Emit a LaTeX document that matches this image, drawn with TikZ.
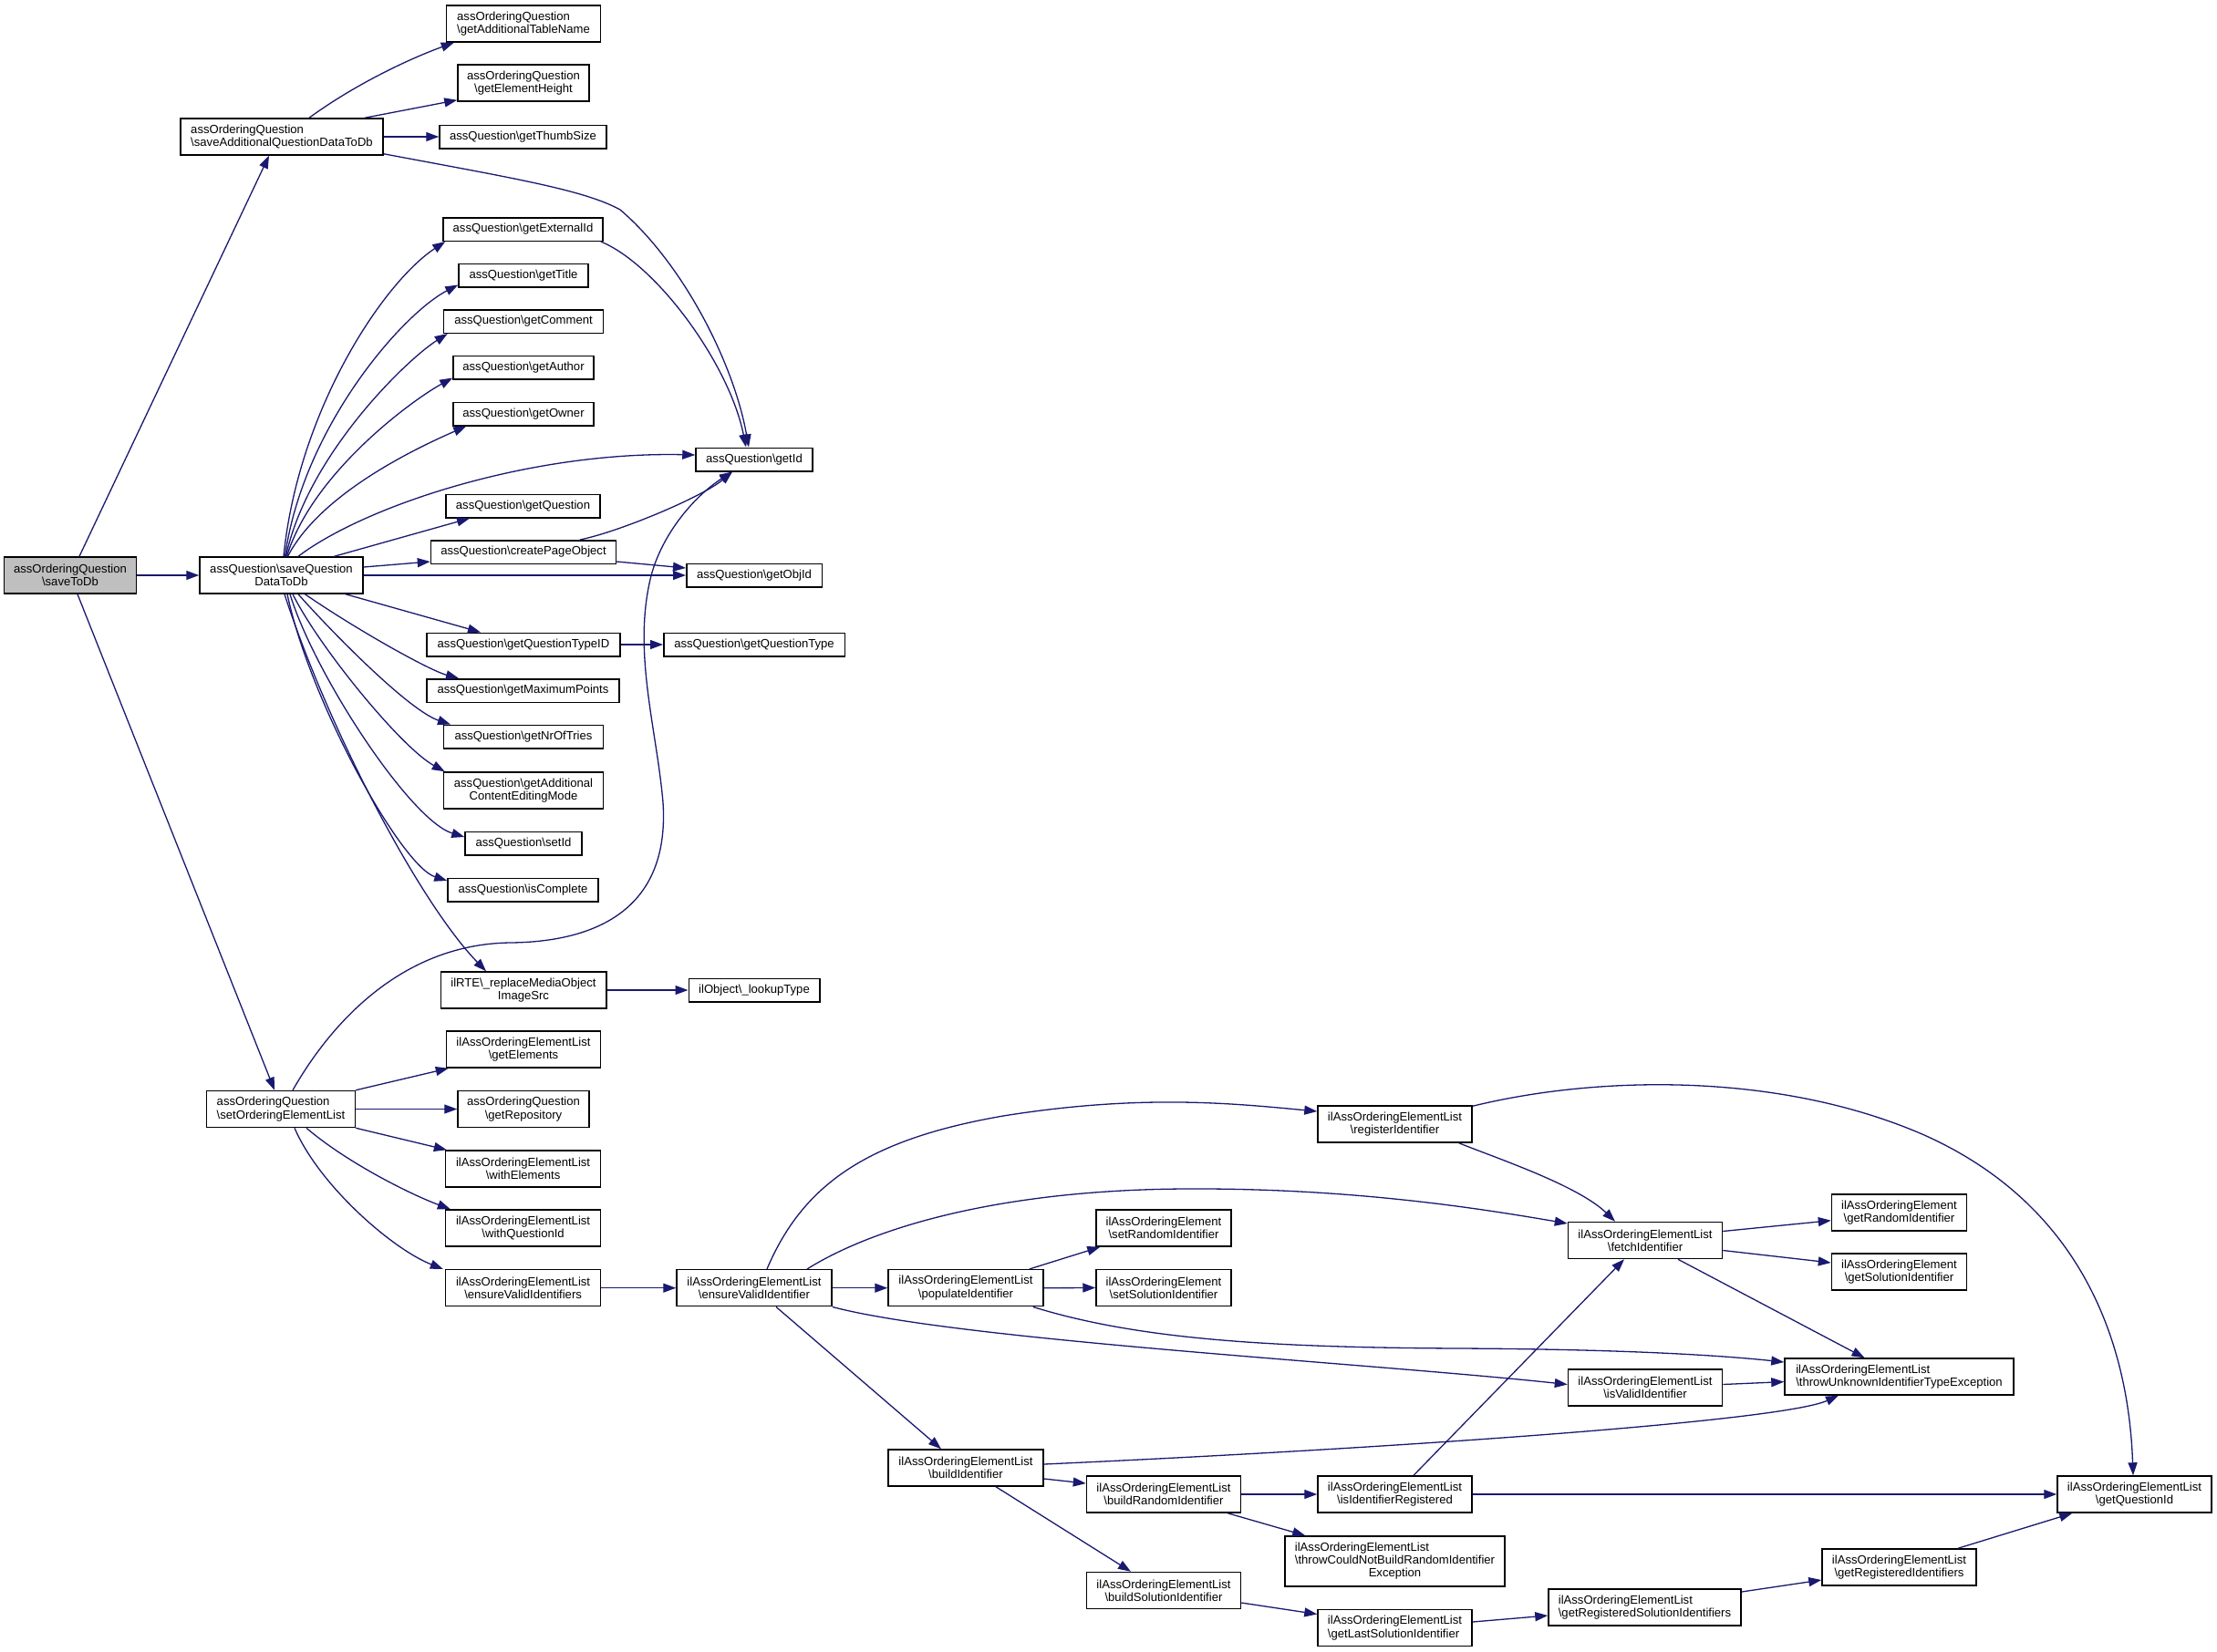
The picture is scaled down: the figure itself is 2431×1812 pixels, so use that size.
\documentclass[tikz,border=0pt]{standalone}
\usepackage{fontspec}
\setmainfont{Liberation Sans}
\usetikzlibrary{arrows.meta}
\definecolor{edgeblue}{HTML}{191970}
\definecolor{hlgray}{HTML}{BFBFBF}
\newcommand\myBS{\textbackslash}
\begin{document}
\begin{tikzpicture}[x=1pt,y=-1pt,
  box/.style 2 args={draw=black, line width=1.5pt, fill=white, inner sep=0pt,
    minimum width=#1pt, minimum height=#2pt,
    font=\fontsize{13.1}{14.3}\selectfont, align=center},
  lbox/.style 2 args={box={#1}{#2}, align=left},
  edge/.style={draw=edgeblue, line width=1.3pt, -{Triangle[length=14pt,width=10pt]}}]
\fill[white] (0,0) rectangle (2431,1812);
\useasboundingbox (0,0) rectangle (2431,1812);

% nodes
\node[box={145}{40}, fill=hlgray] (saveToDb) at (77,631) {assOrderingQuestion\\\myBS saveToDb};
\node[lbox={222}{40}] (saveAdd) at (309,150) {assOrderingQuestion\\\myBS saveAdditionalQuestionDataToDb};
\node[lbox={169}{40}] (getAddTable) at (574,26) {assOrderingQuestion\\\myBS getAdditionalTableName};
\node[box={144}{40}] (getElemHeight) at (574,91) {assOrderingQuestion\\\myBS getElementHeight};
\node[box={183}{25.5}] (getThumb) at (573.5,150) {assQuestion\myBS getThumbSize};
\node[box={175}{25.5}] (getExtId) at (573.5,251.5) {assQuestion\myBS getExternalId};
\node[box={142}{25.5}] (getTitle) at (574,302) {assQuestion\myBS getTitle};
\node[box={175}{25.5}] (getComment) at (574,352.5) {assQuestion\myBS getComment};
\node[box={154}{25.5}] (getAuthor) at (574,403) {assQuestion\myBS getAuthor};
\node[box={154}{25.5}] (getOwner) at (574,454) {assQuestion\myBS getOwner};
\node[box={128}{25.5}] (getId) at (827,504) {assQuestion\myBS getId};
\node[box={169}{25.5}] (getQuestion) at (573.5,555) {assQuestion\myBS getQuestion};
\node[box={203}{25.5}] (createPage) at (574,605.5) {assQuestion\myBS createPageObject};
\node[box={148.5}{25.5}] (getObjId) at (827,631) {assQuestion\myBS getObjId};
\node[box={179}{40}] (saveQData) at (308.5,631) {assQuestion\myBS saveQuestion\\DataToDb};
\node[box={212}{25.5}] (getQTypeID) at (574,707) {assQuestion\myBS getQuestionTypeID};
\node[box={198.5}{25.5}] (getQType) at (827,707) {assQuestion\myBS getQuestionType};
\node[box={211}{25.5}] (getMaxPts) at (573.5,757.5) {assQuestion\myBS getMaximumPoints};
\node[box={175}{25.5}] (getNrOfTries) at (574,808) {assQuestion\myBS getNrOfTries};
\node[box={175}{40}] (getAddCEM) at (574,867) {assQuestion\myBS getAdditional\\ContentEditingMode};
\node[box={128}{25.5}] (setId) at (574,925) {assQuestion\myBS setId};
\node[box={165}{25.5}] (isComplete) at (573.5,976) {assQuestion\myBS isComplete};
\node[box={181.5}{40}] (ilRTE) at (574,1086) {ilRTE\myBS\_replaceMediaObject\\ImageSrc};
\node[box={143.5}{25.5}] (lookupType) at (827,1086) {ilObject\myBS\_lookupType};
\node[box={169}{40}] (getElements) at (574,1151) {ilAssOrderingElementList\\\myBS getElements};
\node[box={144}{40}] (getRepository) at (574,1216.5) {assOrderingQuestion\\\myBS getRepository};
\node[lbox={162.6}{40}] (setOEL) at (308,1216.5) {assOrderingQuestion\\\myBS setOrderingElementList};
\node[box={170}{40}] (withElements) at (573.6,1282) {ilAssOrderingElementList\\\myBS withElements};
\node[box={170}{40}] (withQId) at (573.6,1347) {ilAssOrderingElementList\\\myBS withQuestionId};
\node[box={170}{40}] (ensureVIs) at (573.6,1412.7) {ilAssOrderingElementList\\\myBS ensureValidIdentifiers};
\node[box={170}{40}] (ensureVI) at (827,1412.7) {ilAssOrderingElementList\\\myBS ensureValidIdentifier};
\node[box={170}{40}] (populate) at (1059,1412.7) {ilAssOrderingElementList\\\myBS populateIdentifier};
\node[box={170}{40}] (buildId) at (1059,1610) {ilAssOrderingElementList\\\myBS buildIdentifier};
\node[box={169}{40}] (registerId) at (1529.5,1233) {ilAssOrderingElementList\\\myBS registerIdentifier};
\node[box={148}{40}] (setRandomId) at (1276,1347) {ilAssOrderingElement\\\myBS setRandomIdentifier};
\node[box={148}{40}] (setSolutionId) at (1276,1412.5) {ilAssOrderingElement\\\myBS setSolutionIdentifier};
\node[box={169}{40}] (fetchId) at (1804,1360.5) {ilAssOrderingElementList\\\myBS fetchIdentifier};
\node[box={148}{40}] (getRandomId) at (2082.5,1330) {ilAssOrderingElement\\\myBS getRandomIdentifier};
\node[box={148}{40}] (getSolutionId) at (2082.5,1395) {ilAssOrderingElement\\\myBS getSolutionIdentifier};
\node[lbox={251}{40}] (throwUnknown) at (2082.5,1510) {ilAssOrderingElementList\\\myBS throwUnknownIdentifierTypeException};
\node[box={169}{40}] (isValidId) at (1804,1522) {ilAssOrderingElementList\\\myBS isValidIdentifier};
\node[box={169}{40}] (buildRandomId) at (1276,1639) {ilAssOrderingElementList\\\myBS buildRandomIdentifier};
\node[box={169}{40}] (isIdReg) at (1529.5,1639) {ilAssOrderingElementList\\\myBS isIdentifierRegistered};
\node[box={169}{40}] (getQuestionId) at (2340.5,1639) {ilAssOrderingElementList\\\myBS getQuestionId};
\node[box={241}{55}] (throwCouldNot) at (1529.5,1712.5) {\begin{tabular}{@{}l@{}}ilAssOrderingElementList\\\myBS throwCouldNotBuildRandomIdentifier\\\multicolumn{1}{@{}c@{}}{Exception}\end{tabular}};
\node[box={169}{40}] (buildSolutionId) at (1276,1744.5) {ilAssOrderingElementList\\\myBS buildSolutionIdentifier};
\node[lbox={169}{40}] (getLastSolId) at (1529.5,1785.5) {ilAssOrderingElementList\\\myBS getLastSolutionIdentifier};
\node[lbox={211}{40}] (getRegSolIds) at (1803.5,1763) {ilAssOrderingElementList\\\myBS getRegisteredSolutionIdentifiers};
\node[box={169}{40}] (getRegIds) at (2082.5,1719) {ilAssOrderingElementList\\\myBS getRegisteredIdentifiers};

% edges from saveToDb
\draw[edge] ([shift={(10,0)}]saveToDb.north) -- ([shift={(-14,0)}]saveAdd.south);
\draw[edge] (saveToDb.east) -- (saveQData.west);
\draw[edge] ([shift={(8,0)}]saveToDb.south) -- ([shift={(-7,0)}]setOEL.north);

% saveAdditionalQuestionDataToDb
\draw[edge] ([shift={(30,0)}]saveAdd.north) .. controls (390,92) and (450,64) .. ([shift={(9,0)}]getAddTable.south west);
\draw[edge] ([shift={(91,0)}]saveAdd.north) -- ([shift={(0,-2)}]getElemHeight.south west);
\draw[edge] (saveAdd.east) -- (getThumb.west);
\draw[edge] ([shift={(0,-2)}]saveAdd.south east) .. controls (560,195) and (640,208) .. (680,230) .. controls (750,290) and (805,400) .. ([shift={(-6,0)}]getId.north);

% saveQuestionDataToDb, upper fan
\draw[edge] ([shift={(2.5,0)}]saveQData.north) .. controls (327,450) and (420,310) .. ([shift={(3,0)}]getExtId.south west);
\draw[edge] ([shift={(4,0)}]saveQData.north) .. controls (332,470) and (440,345) .. ([shift={(0,-3)}]getTitle.south west);
\draw[edge] ([shift={(5,0)}]saveQData.north) .. controls (337,500) and (445,395) .. ([shift={(5,0)}]getComment.south west);
\draw[edge] ([shift={(6,0)}]saveQData.north) .. controls (342,520) and (450,440) .. ([shift={(0,-2)}]getAuthor.south west);
\draw[edge] ([shift={(7,0)}]saveQData.north) .. controls (352,540) and (460,490) .. ([shift={(15,0)}]getOwner.south west);
\draw[edge] ([shift={(18.5,0)}]saveQData.north) .. controls (400,555) and (580,495) .. ([shift={(0,-5)}]getId.west);
\draw[edge] ([shift={(58,0)}]saveQData.north) -- ([shift={(-58.5,0)}]getQuestion.south);
\draw[edge] ([shift={(0,-9)}]saveQData.east) -- ([shift={(0,10.5)}]createPage.west);
\draw[edge] (saveQData.east) -- (getObjId.west);
\draw[edge] ([shift={(0,10.5)}]createPage.east) -- ([shift={(0,-8)}]getObjId.west);
\draw[edge] ([shift={(62,0)}]createPage.north) .. controls (680,583) and (770,545) .. ([shift={(-24,0)}]getId.south);
\draw[edge] ([shift={(-3,0)}]getExtId.south east) .. controls (720,290) and (800,400) .. ([shift={(-9,0)}]getId.north);

% saveQuestionDataToDb, lower fan
\draw[edge] ([shift={(70.5,0)}]saveQData.south) -- ([shift={(-47,0)}]getQTypeID.north);
\draw[edge] ([shift={(26,0)}]saveQData.south) .. controls (390,690) and (470,735) .. ([shift={(-70.5,0)}]getMaxPts.north);
\draw[edge] ([shift={(18.5,0)}]saveQData.south) .. controls (370,700) and (450,780) .. ([shift={(-80,0)}]getNrOfTries.north);
\draw[edge] ([shift={(12.5,0)}]saveQData.south) .. controls (350,710) and (440,820) .. ([shift={(2,0)}]getAddCEM.north west);
\draw[edge] ([shift={(9.5,0)}]saveQData.south) .. controls (345,740) and (450,900) .. ([shift={(0,-7)}]setId.west);
\draw[edge] ([shift={(6.5,0)}]saveQData.south) .. controls (340,770) and (440,950) .. ([shift={(0,-10)}]isComplete.west);
\draw[edge] ([shift={(3.5,0)}]saveQData.south) .. controls (360,800) and (460,990) .. ([shift={(-41,0)}]ilRTE.north);
\draw[edge] (getQTypeID.east) -- (getQType.west);
\draw[edge] (ilRTE.east) -- (lookupType.west);

% setOrderingElementList
\draw[edge] ([shift={(13,0)}]setOEL.north) .. controls (370,1110) and (450,1035) .. (560,1034) .. controls (650,1033) and (735,1000) .. (727,880) .. controls (720,800) and (695,720) .. (712,640) .. controls (722,590) and (760,545) .. ([shift={(-24,0)}]getId.south);
\draw[edge] (setOEL.north east) -- ([shift={(3,0)}]getElements.south west);
\draw[edge] (setOEL.east) -- (getRepository.west);
\draw[edge] (setOEL.south east) -- ([shift={(2,0)}]withElements.north west);
\draw[edge] ([shift={(28,0)}]setOEL.south) .. controls (380,1275) and (450,1310) .. ([shift={(6,0)}]withQId.north west);
\draw[edge] ([shift={(15,0)}]setOEL.south) .. controls (350,1300) and (430,1370) .. ([shift={(-2,0)}]ensureVIs.north west);
\draw[edge] (ensureVIs.east) -- (ensureVI.west);

% ensureValidIdentifier
\draw[edge] (ensureVI.east) -- (populate.west);
\draw[edge] ([shift={(24,0)}]ensureVI.south) -- ([shift={(-27,0)}]buildId.north);
\draw[edge] ([shift={(14,0)}]ensureVI.north) .. controls (880,1300) and (950,1250) .. (1100,1224) .. controls (1250,1200) and (1350,1210) .. ([shift={(0,-14)}]registerId.west);
\draw[edge] ([shift={(58,0)}]ensureVI.north) .. controls (960,1345) and (1100,1305) .. (1300,1304) .. controls (1480,1303) and (1620,1325) .. ([shift={(0,-18.5)}]fetchId.west);
\draw[edge] (ensureVI.south east) .. controls (1050,1470) and (1500,1495) .. ([shift={(0,-3.5)}]isValidId.west);

% populateIdentifier
\draw[edge] ([shift={(-16,0)}]populate.north east) -- ([shift={(5,0)}]setRandomId.south west);
\draw[edge] (populate.east) -- (setSolutionId.west);
\draw[edge] ([shift={(-12,0)}]populate.south east) .. controls (1250,1470) and (1400,1478) .. (1600,1479) .. controls (1800,1480) and (1900,1488) .. ([shift={(0,-16)}]throwUnknown.west);

% buildIdentifier
\draw[edge] ([shift={(0,-4)}]buildId.east) .. controls (1500,1590) and (1950,1560) .. ([shift={(-66.5,0)}]throwUnknown.south);
\draw[edge] ([shift={(0,12)}]buildId.east) -- ([shift={(0,-12)}]buildRandomId.west);
\draw[edge] ([shift={(33,0)}]buildId.south) -- ([shift={(-36,0)}]buildSolutionId.north);

% registerIdentifier
\draw[edge] ([shift={(0,1)}]registerId.north east) .. controls (1750,1180) and (1950,1175) .. (2110,1245) .. controls (2300,1330) and (2335,1500) .. ([shift={(-1.5,0)}]getQuestionId.north);
\draw[edge] ([shift={(-15,0)}]registerId.south east) .. controls (1640,1270) and (1730,1300) .. ([shift={(-33,0)}]fetchId.north);

% fetchIdentifier
\draw[edge] ([shift={(0,-10)}]fetchId.east) -- ([shift={(0,8.7)}]getRandomId.west);
\draw[edge] ([shift={(0,11)}]fetchId.east) -- ([shift={(0,-10)}]getSolutionId.west);
\draw[edge] ([shift={(36,0)}]fetchId.south) -- ([shift={(-38,0)}]throwUnknown.north);
\draw[edge] ([shift={(0,-3.5)}]isValidId.east) -- ([shift={(0,5.6)}]throwUnknown.west);

% random / solution identifiers
\draw[edge] (buildRandomId.east) -- (isIdReg.west);
\draw[edge] ([shift={(-15,0)}]buildRandomId.south east) -- ([shift={(23,0)}]throwCouldNot.north west);
\draw[edge] ([shift={(20.5,0)}]isIdReg.north) -- ([shift={(-23,0)}]fetchId.south);
\draw[edge] (isIdReg.east) -- (getQuestionId.west);
\draw[edge] ([shift={(0,13.5)}]buildSolutionId.east) -- ([shift={(0,-15)}]getLastSolId.west);
\draw[edge] ([shift={(0,-6.5)}]getLastSolId.east) -- ([shift={(0,9)}]getRegSolIds.west);
\draw[edge] ([shift={(0,-17)}]getRegSolIds.east) -- ([shift={(0,14)}]getRegIds.west);
\draw[edge] ([shift={(64.5,0)}]getRegIds.north) -- ([shift={(17,0)}]getQuestionId.south west);
\end{tikzpicture}
\end{document}
